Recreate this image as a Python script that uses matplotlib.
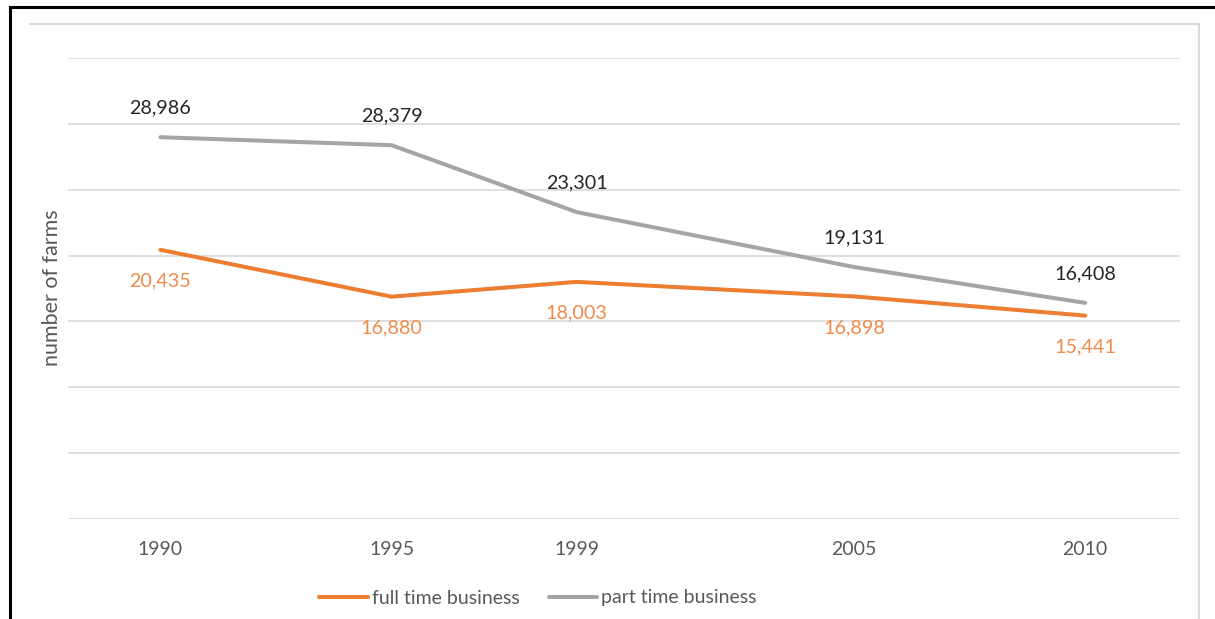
import matplotlib
matplotlib.use("Agg")
from matplotlib import pyplot as plt
from matplotlib.lines import Line2D

plt.rcParams['font.family'] = ['Lato', 'DejaVu Sans']

years = [1990, 1995, 1999, 2005, 2010]
full_time = [20435, 16880, 18003, 16898, 15441]
part_time = [28986, 28379, 23301, 19131, 16408]
labels = ["full time business", "part time business"]

orange = "#ED7D31"
grey = "#A5A5A5"
W, H = 1215, 619

fig = plt.figure(figsize=(W / 100, H / 100), dpi=100)
ax = fig.add_axes([68 / W, 1 - 519 / H, (1180 - 68) / W, (519 - 58) / H])

l1, = ax.plot(years, full_time, color=orange, lw=2.9, solid_capstyle="round")
l2, = ax.plot(years, part_time, color=grey, lw=2.9, solid_capstyle="round")

for x, y in zip(years, full_time):
    ax.annotate(f"{y:,}", (x, y), xytext=(0, -31), textcoords="offset pixels",
                ha="center", va="center", fontsize=14.2, color="#F08A4B")
for x, y in zip(years, part_time):
    ax.annotate(f"{y:,}", (x, y), xytext=(0, 29), textcoords="offset pixels",
                ha="center", va="center", fontsize=14.2, color="#262626")

ax.set_xlim(1988, 2012.05)
ax.set_ylim(0, 35000)
ax.set_yticks(range(0, 35001, 5000))
ax.set_yticklabels([])
ax.set_xticks(years)
ax.set_xticklabels([str(y) for y in years], fontsize=14, color="#595959")
ax.tick_params(length=0, pad=16)
ax.tick_params(axis="y", pad=0)
ax.grid(axis="y", color="#D9D9D9", lw=1.2)
ax.set_axisbelow(True)
for s in ax.spines.values():
    s.set_visible(False)

fig.text(52 / W, 1 - 288 / H, "number of farms", rotation=90, ha="center",
         va="center", fontsize=15.5, color="#595959")

fig.legend([l1, l2], labels, loc="center", bbox_to_anchor=(538 / W, 1 - 598 / H),
           ncol=2, frameon=False, fontsize=14, handlelength=2.5,
           handletextpad=0.2, columnspacing=1.5, labelcolor="#595959")

# outer frame lines
fig.add_artist(Line2D([10 / W, 10 / W], [0, 1 - 7 / H], color="black", lw=2.2))
fig.add_artist(Line2D([10 / W, 1], [1 - 7 / H, 1 - 7 / H], color="black", lw=2.2))
fig.add_artist(Line2D([30 / W, 1199 / W], [1 - 24 / H, 1 - 24 / H], color="#D9D9D9", lw=1.5))
fig.add_artist(Line2D([1199 / W, 1199 / W], [0, 1 - 24 / H], color="#D9D9D9", lw=1.5))

fig.savefig("out.png", dpi=100)
